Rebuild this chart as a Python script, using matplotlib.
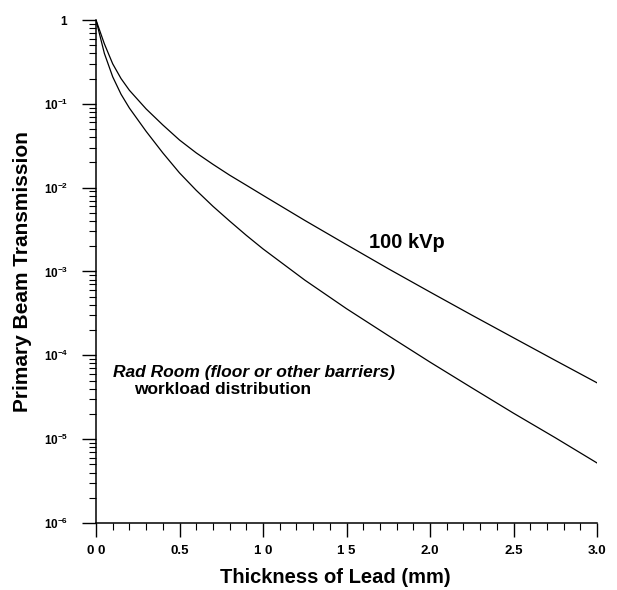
#!/usr/bin/env python3
"""Primary beam transmission through lead: 100 kVp vs Rad Room workload."""

import matplotlib
matplotlib.use("Agg")
import matplotlib.pyplot as plt
from matplotlib.ticker import FixedLocator, LogLocator, NullFormatter

# Lead thickness (mm)
THICKNESS = [0.0, 0.05, 0.1, 0.15, 0.2, 0.3, 0.4, 0.5, 0.6, 0.7, 0.8, 0.9,
             1.0, 1.25, 1.5, 1.75, 2.0, 2.25, 2.5, 2.75, 3.0]

# 100 kVp curve
T_100KVP = [1.0, 0.52, 0.30, 0.20, 0.145, 0.087, 0.056, 0.037, 0.026, 0.019,
            0.0141, 0.0107, 0.0081, 4.07e-3, 2.09e-3, 1.08e-3, 5.69e-4,
            3.02e-4, 1.62e-4, 8.7e-5, 4.7e-5]

# Rad Room (floor or other barriers) workload distribution
T_RAD_ROOM = [1.0, 0.40, 0.21, 0.13, 0.089, 0.047, 0.026, 0.015, 0.0093,
              0.0060, 0.0040, 0.0027, 0.00186, 7.9e-4, 3.6e-4, 1.72e-4,
              8.3e-5, 4.1e-5, 2.04e-5, 1.04e-5, 5.2e-6]

X_TICKS = [0.0, 0.5, 1.0, 1.5, 2.0, 2.5, 3.0]
X_TICK_LABELS = ["0 0", "0.5", "1 0", "1 5", "2.0", "2.5", "3.0"]
Y_TICKS = [1e-6, 1e-5, 1e-4, 1e-3, 1e-2, 1e-1, 1.0]
Y_TICK_LABELS = [r"$\mathbf{10^{-6}}$", r"$\mathbf{10^{-5}}$", r"$\mathbf{10^{-4}}$",
                 r"$\mathbf{10^{-3}}$", r"$\mathbf{10^{-2}}$", r"$\mathbf{10^{-1}}$",
                 r"$\mathbf{1}$"]


def setup_style() -> None:
    plt.rcParams.update({
        "font.family": ["Liberation Sans", "DejaVu Sans"],
        "mathtext.fontset": "custom",
        "mathtext.rm": "Liberation Sans",
        "mathtext.bf": "Liberation Sans:bold",
        "axes.linewidth": 1.1,
    })


def main() -> None:
    setup_style()
    fig = plt.figure(figsize=(6.17, 5.9), dpi=100)
    ax = fig.add_axes([0.1556, 0.1136, 0.812, 0.8525])

    ax.plot(THICKNESS, T_100KVP, color="black", linewidth=0.9)
    ax.plot(THICKNESS, T_RAD_ROOM, color="black", linewidth=0.9)

    ax.set_yscale("log")
    ax.set_xlim(0, 3.0)
    ax.set_ylim(1e-6, 1.0)

    ax.spines["top"].set_visible(False)
    ax.spines["right"].set_visible(False)

    ax.set_xticks(X_TICKS)
    ax.set_xticklabels(X_TICK_LABELS, fontsize=9.5, fontweight="bold")
    ax.xaxis.set_minor_locator(FixedLocator([i / 10 for i in range(31)]))
    ax.set_yticks(Y_TICKS)
    ax.set_yticklabels(Y_TICK_LABELS, fontsize=8.5)
    ax.yaxis.set_minor_locator(LogLocator(base=10, subs=range(2, 10), numticks=20))
    ax.yaxis.set_minor_formatter(NullFormatter())

    ax.tick_params(axis="both", which="major", direction="out", length=10,
                   width=1.0, color="black")
    ax.tick_params(axis="both", which="minor", direction="out", length=5,
                   width=0.8, color="black")
    ax.tick_params(axis="x", which="major", pad=6)
    ax.tick_params(axis="y", which="major", pad=10)

    ax.set_xlabel("Thickness of Lead (mm)", fontsize=14.5, fontweight="bold",
                  va="center")
    ax.xaxis.set_label_coords(0.477, -0.109)
    ax.set_ylabel("Primary Beam Transmission", fontsize=15, fontweight="bold",
                  va="center")
    ax.yaxis.set_label_coords(-0.146, 0.5)

    ax.text(1.86, 2.24e-3, "100 kVp", fontsize=14.5, fontweight="bold",
            ha="center", va="center")
    ax.text(0.10, 6.3e-5, "Rad Room (floor or other barriers)", fontsize=12.5,
            fontweight="bold", fontstyle="italic", ha="left", va="center")
    ax.text(0.23, 3.9e-5, "workload distribution", fontsize=12.5,
            fontweight="bold", ha="left", va="center")

    fig.savefig("out.png", dpi=100)
    plt.close(fig)


if __name__ == "__main__":
    main()
